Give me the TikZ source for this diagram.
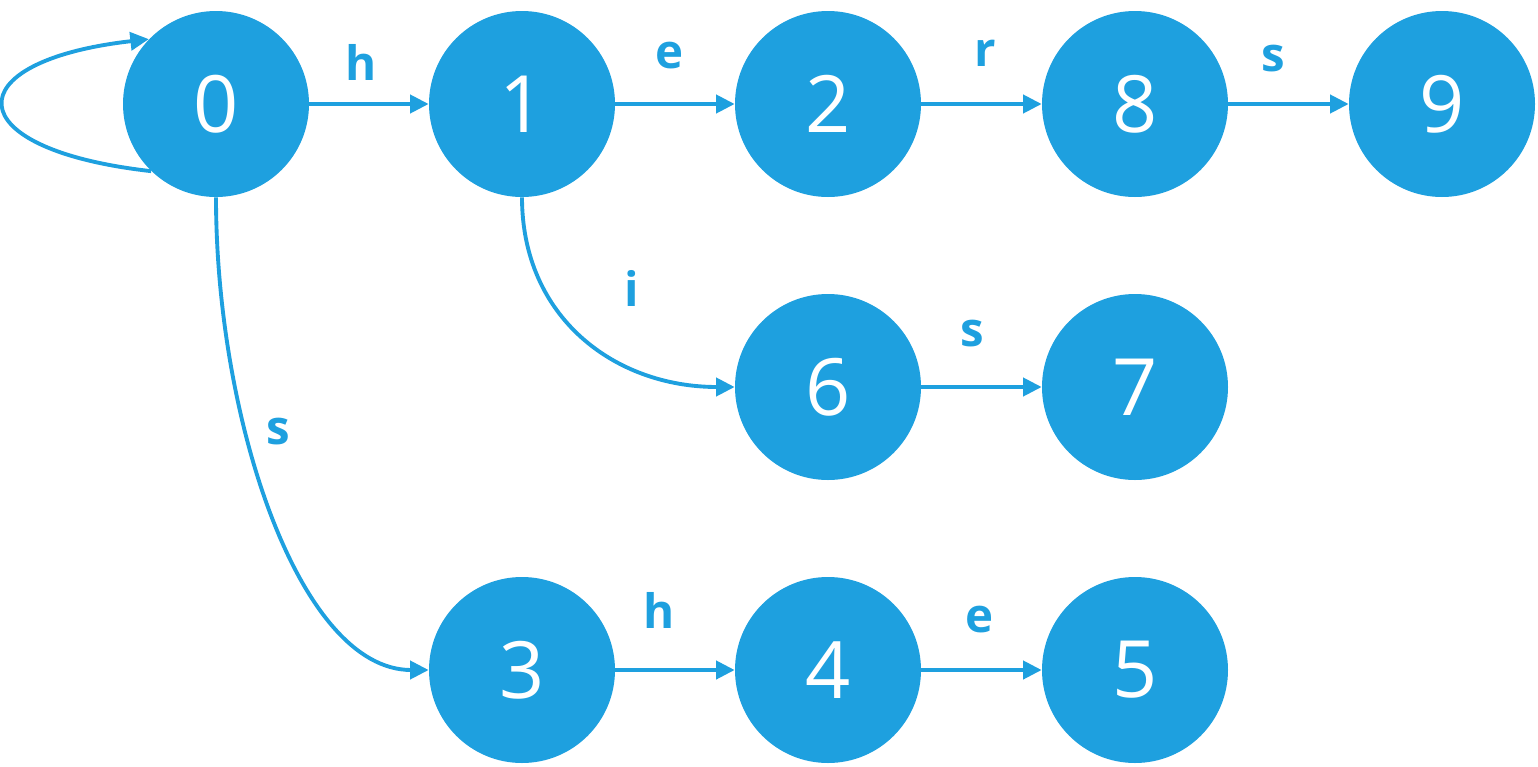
\documentclass[tikz,border=0pt]{standalone}
\usepackage{fontspec}
\setmainfont{Open Sans}
\usepackage{xcolor}
\usepackage{tikz}
\usetikzlibrary{arrows.meta}
\definecolor{trieblue}{RGB}{30,160,223}

\begin{document}
\begin{tikzpicture}[
	state/.style = {circle, fill = trieblue, text = white, minimum size = 3.72cm, inner sep = 0pt,
		font = \fontsize{45}{45}\selectfont},
	trans/.style = {draw = trieblue, line width = 2.2pt, -{Triangle[length = 0.37cm, width = 0.36cm]}},
	letter/.style = {text = trieblue, inner sep = 0pt, font = \fontsize{27}{27}\selectfont\bfseries}]
	\useasboundingbox (0, 0) rectangle (30.76, -15.32);
	\foreach \name/\x/\y in {0/4.32/-2.08, 1/10.44/-2.08, 2/16.56/-2.08, 8/22.70/-2.08, 9/28.84/-2.08,
		6/16.56/-7.74, 7/22.70/-7.74, 3/10.44/-13.40, 4/16.56/-13.40, 5/22.70/-13.40}{
		\node[state] (q\name) at (\x, \y) {\name};}
	\foreach \a/\b in {0/1, 1/2, 2/8, 8/9, 6/7, 3/4, 4/5}{
		\draw[trans] (q\a.east) -- (q\b.west);}
	\draw[trans] (q0.226) .. controls +(-3.92, 0.44) and +(-3.88, -0.44) .. (q0.136);
	\draw[trans] (q0.south) .. controls +(0, -4.46) and +(-2.58, 0) .. (q3.west);
	\draw[trans] (q1.south) .. controls +(0, -2.4) and +(-2.4, 0) .. (q6.west);
	\foreach \name/\x/\y/\txt in {h01/7.22/-1.24/h, e12/13.40/-1.12/e, r28/19.70/-1.06/r, s89/25.46/-1.18/s,
		i16/12.64/-5.76/i, s67/19.44/-6.68/s, s03/5.56/-8.64/s, h34/13.18/-12.20/h, e45/19.60/-12.40/e}{
		\node[letter] (l\name) at (\x, \y) {\txt};}
\end{tikzpicture}
\end{document}
